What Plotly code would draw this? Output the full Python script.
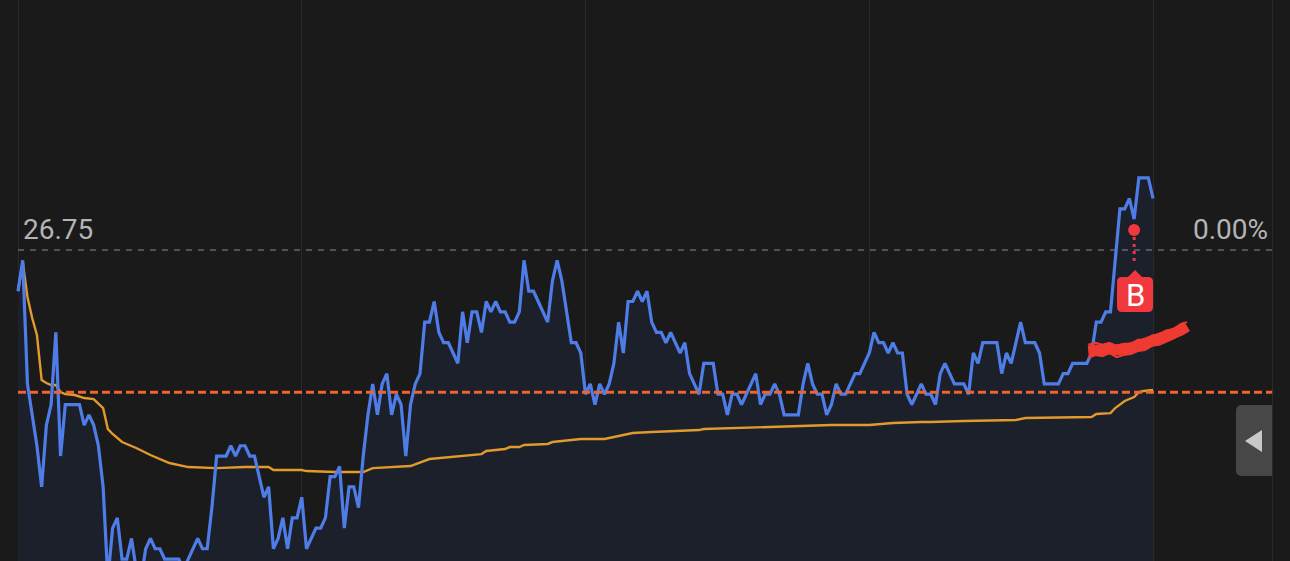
import plotly.graph_objects as go

W, H = 1290, 561

prev_close = 26.75
close_label = "26.75"
pct_label = "0.00%"
buy_label = "B"
ref_level = 26.612
grid_minutes = [0, 60, 120, 180, 240, 265.2]

price = [
    26.71,26.74,26.62,26.59,26.56,26.52,26.58,26.60,26.67,26.55,
    26.60,26.60,26.60,26.60,26.58,26.59,26.58,26.56,26.52,26.43,
    26.48,26.49,26.45,26.45,26.47,26.44,26.43,26.46,26.47,26.46,
    26.46,26.45,26.45,26.45,26.45,26.44,26.45,26.46,26.47,26.46,
    26.46,26.50,26.55,26.55,26.55,26.56,26.55,26.56,26.56,26.55,
    26.55,26.53,26.51,26.52,26.46,26.47,26.49,26.46,26.49,26.49,
    26.51,26.46,26.47,26.48,26.48,26.49,26.53,26.53,26.54,26.48,
    26.52,26.52,26.50,26.55,26.59,26.62,26.59,26.62,26.63,26.59,
    26.61,26.60,26.55,26.60,26.62,26.63,26.68,26.68,26.70,26.67,
    26.66,26.66,26.65,26.64,26.69,26.66,26.69,26.69,26.67,26.70,
    26.69,26.70,26.69,26.69,26.68,26.68,26.69,26.74,26.71,26.71,
    26.70,26.69,26.68,26.72,26.74,26.72,26.69,26.66,26.66,26.65,
    26.61,26.62,26.60,26.62,26.61,26.62,26.64,26.68,26.65,26.70,
    26.70,26.71,26.70,26.71,26.68,26.67,26.67,26.66,26.67,26.66,
    26.65,26.66,26.63,26.62,26.61,26.64,26.64,26.64,26.61,26.61,
    26.59,26.61,26.61,26.60,26.61,26.62,26.63,26.60,26.61,26.61,
    26.62,26.61,26.59,26.59,26.59,26.59,26.62,26.64,26.62,26.61,
    26.61,26.59,26.60,26.62,26.61,26.61,26.62,26.63,26.63,26.64,
    26.65,26.67,26.66,26.66,26.65,26.66,26.65,26.65,26.61,26.60,
    26.61,26.62,26.61,26.61,26.60,26.63,26.64,26.63,26.62,26.62,
    26.62,26.61,26.65,26.64,26.66,26.66,26.66,26.66,26.63,26.65,
    26.64,26.66,26.68,26.66,26.66,26.66,26.65,26.62,26.62,26.62,
    26.62,26.63,26.63,26.64,26.64,26.64,26.64,26.65,26.68,26.68,
    26.69,26.69,26.74,26.79,26.79,26.80,26.78,26.82,26.82,26.82,26.80,
]
minutes = list(range(len(price)))

avg_minutes = [0,1,2,3,4,5,6,7,8,9,10,12,14,16,18,19,20,22,25,28,32,36,42,48,53,54,60,
               61,67,73,75,83,87,93,98,99,103,104,106,107,112,113,119,124,127,130,134,
               144,145,158,172,180,185,191,193,200,211,213,227,228,231,232,234,236,237,238,240]
avg_price = [26.7102,26.7383,26.7044,26.684,26.6675,26.6238,26.6209,26.6189,26.6189,26.6121,
             26.6102,26.6092,26.6063,26.6053,26.5966,26.5762,26.5714,26.5636,26.5578,26.551,
             26.5432,26.5393,26.5383,26.5393,26.5393,26.5364,26.5364,
             26.5354,26.5345,26.5345,26.5383,26.5403,26.5471,26.55,26.5519,26.5549,26.5568,
             26.5587,26.5587,26.5607,26.5617,26.5636,26.5665,26.5665,26.5694,26.5723,26.5733,
             26.5752,26.5762,26.5782,26.5801,26.5801,26.582,26.583,26.583,26.584,26.585,
             26.5869,26.5879,26.5908,26.5917,26.5966,26.6034,26.6073,26.6121,26.6131,26.6141]

buy_minute = 236
buy_dot_price = 26.7694
buy_stem_end = 26.7383

scribble_minutes = [226.3,227.8,229.3,230.8,232.3,233.8,235.3,236.8,238.3,239.8,241.3,242.8,244.3,245.8,247.2]
scribble_mid = [26.652,26.653,26.654,26.654,26.653,26.653,26.655,26.657,26.659,26.661,26.664,26.666,26.669,26.672,26.676]
scribble_top = [26.658,26.660,26.658,26.660,26.657,26.659,26.659,26.663,26.663,26.667,26.668,26.672,26.673,26.678,26.680]
scribble_low = [26.645,26.648,26.647,26.650,26.646,26.648,26.649,26.652,26.653,26.657,26.658,26.661,26.664,26.668,26.671]

# Axis calibration
x_range = [-3.806, 268.96]
y_range = [26.4481, 26.9927]

BG = "#1a1a1a"
GRID = "#2a2a2b"
BLUE = "#4f7de8"
FILL = "#1b202b"
ORANGE = "#e29a2c"
RED_DASH = "#ee6430"
GRAY_DASH = "#8c8c8c"
RED = "#f0383e"
SCRIBBLE = "#ee3a30"

fig = go.Figure()
fig.add_trace(go.Scatter(x=minutes, y=price, mode="lines", line=dict(width=0),
                         fill="tozeroy", fillcolor=FILL, hoverinfo="skip"))
fig.add_trace(go.Scatter(x=[grid_minutes[0], grid_minutes[-1]], y=[prev_close, prev_close], mode="lines",
                         line=dict(color=GRAY_DASH, width=1.2, dash="6px,6px")))
fig.add_trace(go.Scatter(x=avg_minutes, y=avg_price, mode="lines", line=dict(color=ORANGE, width=2.4)))
fig.add_trace(go.Scatter(x=minutes, y=price, mode="lines", line=dict(color=BLUE, width=3.2)))
fig.add_trace(go.Scatter(x=[grid_minutes[0], grid_minutes[-1]], y=[ref_level, ref_level], mode="lines",
                         line=dict(color=RED_DASH, width=3, dash="8px,4px")))
for vals, lw in ((scribble_mid, 11), (scribble_top, 2), (scribble_low, 2)):
    fig.add_trace(go.Scatter(x=scribble_minutes, y=vals, mode="lines",
                             line=dict(color=SCRIBBLE, width=lw)))
fig.add_trace(go.Scatter(x=[buy_minute, buy_minute], y=[buy_dot_price, buy_stem_end], mode="lines",
                         line=dict(color=RED, width=3, dash="3px,4px")))
fig.add_trace(go.Scatter(x=[buy_minute], y=[buy_dot_price], mode="markers",
                         marker=dict(color=RED, size=12)))


def px(x):
    return x / W


def py(y):
    return 1 - y / H


def path(points):
    return "M " + " L ".join(f"{px(x):.5f},{py(y):.5f}" for x, y in points) + " Z"


def rounded(x0, y0, x1, y1, rl, rr):
    return (f"M {px(x0+rl):.5f},{py(y0):.5f} L {px(x1-rr):.5f},{py(y0):.5f} "
            f"Q {px(x1):.5f},{py(y0):.5f} {px(x1):.5f},{py(y0+rr):.5f} "
            f"L {px(x1):.5f},{py(y1-rr):.5f} Q {px(x1):.5f},{py(y1):.5f} {px(x1-rr):.5f},{py(y1):.5f} "
            f"L {px(x0+rl):.5f},{py(y1):.5f} Q {px(x0):.5f},{py(y1):.5f} {px(x0):.5f},{py(y1-rl):.5f} "
            f"L {px(x0):.5f},{py(y0+rl):.5f} Q {px(x0):.5f},{py(y0):.5f} {px(x0+rl):.5f},{py(y0):.5f} Z")


shapes = [
    dict(type="path", xref="paper", yref="paper", path=rounded(1117, 277, 1153, 312, 5, 5),
         fillcolor=RED, line=dict(width=0), layer="above"),
    dict(type="path", xref="paper", yref="paper", path=path([(1127, 278), (1135, 270), (1143, 278)]),
         fillcolor=RED, line=dict(width=0), layer="above"),
    dict(type="path", xref="paper", yref="paper", path=rounded(1236, 405, 1272, 476, 6, 0),
         fillcolor="#474747", line=dict(width=0), layer="above"),
    dict(type="path", xref="paper", yref="paper", path=path([(1245, 441), (1262, 430), (1262, 452)]),
         fillcolor="#c9c9c9", line=dict(width=0), layer="above"),
]

annotations = [
    dict(text=close_label, xref="paper", yref="paper", x=px(21), y=py(230), xanchor="left", yanchor="middle",
         showarrow=False, font=dict(family="Roboto", size=28, color="#b4b4b4")),
    dict(text=pct_label, xref="paper", yref="paper", x=px(1270), y=py(230), xanchor="right", yanchor="middle",
         showarrow=False, font=dict(family="Roboto", size=28, color="#b4b4b4")),
    dict(text=buy_label, xref="paper", yref="paper", x=px(1135), y=py(295), xanchor="center", yanchor="middle",
         showarrow=False, font=dict(family="Roboto", size=31, color="#ffffff")),
]

fig.update_layout(
    width=W, height=H, margin=dict(l=0, r=0, t=0, b=0),
    paper_bgcolor=BG, plot_bgcolor=BG, showlegend=False,
    shapes=shapes, annotations=annotations,
    xaxis=dict(range=x_range, tickvals=grid_minutes, ticktext=[""] * len(grid_minutes),
               showgrid=True, gridcolor=GRID, gridwidth=1, zeroline=False, showline=False, ticks=""),
    yaxis=dict(range=y_range, showgrid=False, zeroline=False, showticklabels=False, showline=False, ticks=""),
)

fig.write_html("out.html", config={"displayModeBar": False},
               post_script="document.body.style.margin='0';document.body.style.background='#1a1a1a';")
